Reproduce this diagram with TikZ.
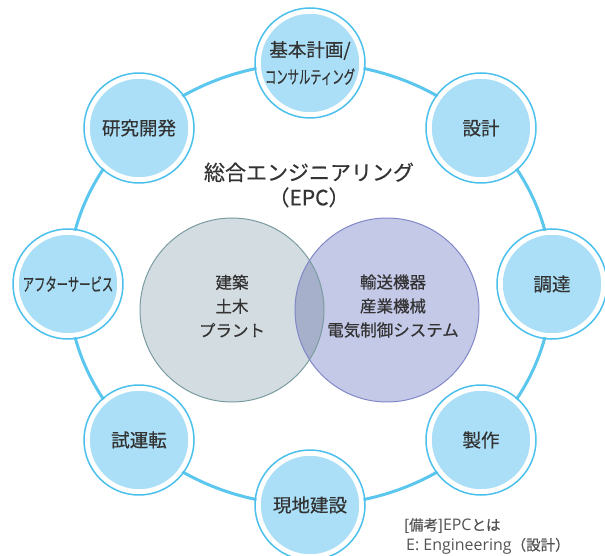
\documentclass[tikz,border=0pt]{standalone}
\usepackage{fontspec}
\usepackage{graphicx}
\setmainfont{Noto Sans CJK JP}[FakeBold=0.5]
\newfontfamily\latinsans{Open Sans}[Scale=1.1]
\definecolor{stagefill}{HTML}{AADFF7}
\definecolor{ringblue}{HTML}{4CC0EC}
\definecolor{bigblue}{HTML}{5BC6EE}
\definecolor{civilfill}{HTML}{D3DCE0}
\definecolor{civilline}{HTML}{7A9CA0}
\definecolor{machfill}{HTML}{C5C9E8}
\definecolor{machline}{HTML}{8088C8}
\definecolor{overlapfill}{HTML}{A7B0CA}
\definecolor{textgray}{HTML}{333333}
\newcommand{\narrow}[1]{{\fontsize{18}{20}\selectfont\scalebox{0.63}[1]{#1}}}

\begin{document}
\begin{tikzpicture}[x=1pt,y=-1pt,
	stage/.style={circle,minimum size=103pt,inner sep=0pt,fill=stagefill,draw=white,line width=4.5pt,
		text=textgray,align=center,font=\fontsize{18.5}{27}\selectfont},
	stagering/.style={draw=ringblue,line width=1.5pt},
	bigring/.style={draw=bigblue,line width=3pt},
	venntext/.style={text=textgray,align=center,font=\fontsize{16.5}{24}\selectfont},
	titletext/.style={text=textgray,align=center,font=\fontsize{21}{25}\selectfont},
	notetext/.style={text=textgray!85,align=left,font=\fontsize{14.5}{20}\selectfont,inner sep=0pt}]
					% Fix the page
					\useasboundingbox (0,0) rectangle (605,556);
					\clip (0,0) rectangle (605,556);
					% Draw the big ring
					\coordinate (hub) at (310,284);
					\draw[bigring] (hub) ellipse [x radius=242pt,y radius=221pt];
					% Place the stages
					\node[stage] (plan) at (310,63) {基本計画/\\\narrow{コンサルティング}};
					\node[stage] (design) at (481,128) {設計};
					\node[stage] (procure) at (552,284) {調達};
					\node[stage] (make) at (481,440) {製作};
					\node[stage] (build) at (310,505) {現地建設};
					\node[stage] (trial) at (139,440) {試運転};
					\node[stage] (service) at (68,284) {\narrow{アフターサービス}};
					\node[stage] (research) at (139,128) {研究開発};
					\foreach \n in {plan,design,procure,make,build,trial,service,research}
						\draw[stagering] (\n.center) circle (55pt);
					% Title
					\node[titletext] (title) at (309,185) {総合エンジニアリング\\（EPC）};
					% Venn circles
					\fill[civilfill] (232,310) circle (92pt);
					\fill[machfill] (387,310) circle (92pt);
					\begin{scope}
						\clip (232,310) circle (92pt);
						\fill[overlapfill] (387,310) circle (92pt);
					\end{scope}
					\draw[civilline,line width=1pt] (232,310) circle (92pt);
					\draw[machline,line width=1pt] (387,310) circle (92pt);
					\node[venntext] (civil) at (232,306) {建築\\土木\\プラント};
					\node[venntext] (mach) at (393,306) {輸送機器\\産業機械\\電気制御システム};
					% Note
					\node[notetext,anchor=north west] (note) at (404,518) {[備考]{\latinsans EPC}とは\\\hspace{2pt}{\latinsans E: Engineering}（設計）};
				\end{tikzpicture}
\end{document}
